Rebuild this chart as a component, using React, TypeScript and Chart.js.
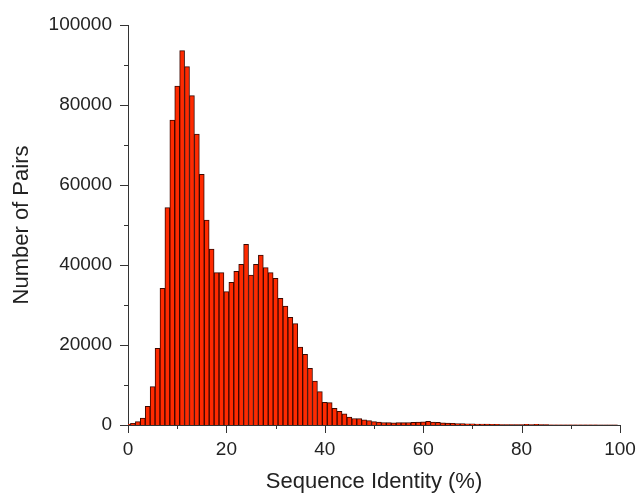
import React, { useEffect, useRef } from "react";
import { Chart, registerables } from "chart.js";

Chart.register(...registerables);

// Histogram bins: sequence identity (%) centred on each integer
const identityBins: number[] = Array.from({ length: 100 }, (_, i) => i);

// Number of pairs per 1% identity bin
const pairCounts: number[] = [
  200, 400, 830, 1750, 4670, 9580, 19170, 34170, 54330, 76250,
  84750, 93580, 89580, 82330, 72750, 62670, 51250, 44000, 38080, 38080,
  33330, 35670, 38420, 40170, 45170, 37500, 40170, 42500, 39330, 38080,
  36670, 31670, 29750, 26920, 25330, 19500, 17670, 14170, 11000, 8330,
  5670, 5600, 4170, 3400, 2800, 2000, 1620, 1580, 1300, 1080,
  830, 700, 620, 580, 560, 580, 600, 620, 650, 700,
  800, 900, 750, 650, 550, 450, 400, 380, 350, 320,
  280, 250, 230, 200, 180, 150, 130, 120, 110, 100,
  120, 150, 110, 150, 90, 80, 70, 60, 60, 50,
  50, 40, 40, 30, 30, 30, 20, 20, 20, 20,
];

const xMajorTicks = [0, 20, 40, 60, 80, 100];
const xMinorTicks = [10, 30, 50, 70, 90];
const yMajorTicks = [0, 20000, 40000, 60000, 80000, 100000];
const yMinorTicks = [10000, 30000, 50000, 70000, 90000];

const FONT = '"Liberation Sans", Arial, Helvetica, sans-serif';
const AXIS_COLOR = "#333333";

const tickMarks = {
  id: "tickMarks",
  afterDraw(chart: any) {
    const { ctx, chartArea, scales } = chart;
    const x = scales.x;
    const y = scales.y;
    ctx.save();
    ctx.strokeStyle = AXIS_COLOR;
    ctx.lineWidth = 1;
    const line = (x1: number, y1: number, x2: number, y2: number) => {
      ctx.beginPath();
      ctx.moveTo(x1, y1);
      ctx.lineTo(x2, y2);
      ctx.stroke();
    };
    const b = chartArea.bottom;
    const l = chartArea.left;
    xMajorTicks.forEach((v) => {
      const px = Math.round(x.getPixelForValue(v)) + 0.5;
      line(px, b, px, b + 8);
    });
    xMinorTicks.forEach((v) => {
      const px = Math.round(x.getPixelForValue(v)) + 0.5;
      line(px, b, px, b + 4);
    });
    yMajorTicks.forEach((v) => {
      const py = Math.round(y.getPixelForValue(v)) + 0.5;
      line(l - 8, py, l, py);
    });
    yMinorTicks.forEach((v) => {
      const py = Math.round(y.getPixelForValue(v)) + 0.5;
      line(l - 4, py, l, py);
    });
    ctx.restore();
  },
};

export default function App() {
  const canvasRef = useRef<HTMLCanvasElement | null>(null);

  useEffect(() => {
    if (!canvasRef.current) return;
    const chart = new Chart(canvasRef.current, {
      type: "bar",
      data: {
        datasets: [
          {
            data: identityBins.map((b, i) => ({ x: b, y: pairCounts[i] })),
            backgroundColor: "#ff2a00",
            borderColor: "#3a0800",
            borderWidth: 1,
            barPercentage: 1,
            categoryPercentage: 1,
          },
        ],
      },
      options: {
        animation: false,
        responsive: true,
        maintainAspectRatio: false,
        layout: { padding: { top: 25, right: 16, bottom: 0, left: 0 } },
        plugins: {
          legend: { display: false },
          tooltip: { enabled: false },
        },
        scales: {
          x: {
            type: "linear",
            min: 0,
            max: 100,
            offset: false,
            grid: { display: false },
            border: { display: true, color: AXIS_COLOR, width: 1 },
            ticks: {
              stepSize: 20,
              padding: 5,
              color: "#222",
              font: { family: FONT, size: 19 },
              maxRotation: 0,
            },
            title: {
              display: true,
              text: "Sequence Identity (%)",
              color: "#222",
              font: { family: FONT, size: 22 },
              padding: { top: 0, bottom: 6 },
            },
            afterFit: (s: any) => {
              s.height = 76;
              s.paddingLeft = 0;
              s.paddingRight = 0;
            },
          },
          y: {
            min: 0,
            max: 100000,
            grid: { display: false },
            border: { display: true, color: AXIS_COLOR, width: 1 },
            ticks: {
              stepSize: 20000,
              padding: 8,
              color: "#222",
              font: { family: FONT, size: 19 },
              callback: (v: any) => String(v),
            },
            title: {
              display: true,
              text: "Number of Pairs",
              color: "#222",
              font: { family: FONT, size: 22 },
              padding: { top: 9, bottom: 0 },
            },
            afterFit: (s: any) => {
              s.width = 128;
              s.paddingTop = 0;
              s.paddingBottom = 0;
            },
          },
        },
      },
      plugins: [tickMarks],
    });
    return () => chart.destroy();
  }, []);

  return (
    <div
      style={{
        position: "fixed",
        left: 0,
        top: 0,
        width: 636,
        height: 501,
        background: "#ffffff",
      }}
    >
      <canvas ref={canvasRef} />
    </div>
  );
}
